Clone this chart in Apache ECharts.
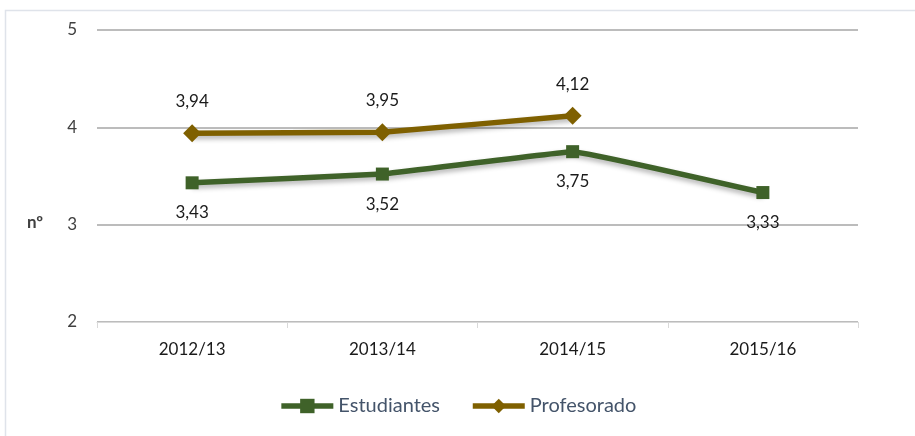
<!DOCTYPE html>
<html>
<head>
<meta charset="utf-8">
<script src="https://cdn.jsdelivr.net/npm/echarts@6/dist/echarts.min.js"></script>
<style>
html, body { margin: 0; padding: 0; background: #fff; }
#chart { width: 915px; height: 436px; }
</style>
</head>
<body>
<div id="chart"></div>
<script>
var categories = ["2012/13", "2013/14", "2014/15", "2015/16"];
var estudiantes = [3.43, 3.52, 3.75, 3.33];
var profesorado = [3.94, 3.95, 4.12, null];
var yTicks = { min: 2, max: 5, interval: 1 };

var fontFam = "Lato, 'Open Sans', sans-serif";

var fmt = function (p) {
    return String(p.value).replace(".", ",");
};

var chart = echarts.init(document.getElementById("chart"));
var option = {
    animation: false,
    backgroundColor: "#fff",
    color: ["#3f6229", "#7f6000"],
    grid: { left: 97, right: 57, top: 30, bottom: 114 },
    graphic: [
        {
            type: "rect",
            shape: { x: 5.5, y: 10.5, width: 915, height: 430 },
            style: { fill: "none", stroke: "#dfe3ea", lineWidth: 1.5 }
        },
        {
            type: "text",
            left: 27,
            top: 214,
            style: { text: "nº", font: "bold 17px " + fontFam, fill: "#404040" }
        }
    ],
    legend: {
        bottom: 15,
        left: "center",
        itemWidth: 52,
        itemHeight: 18,
        itemGap: 30,
        lineStyle: { width: 5.5 },
        textStyle: { color: "#44546a", fontSize: 20, fontFamily: fontFam },
        data: ["Estudiantes", "Profesorado"]
    },
    xAxis: {
        type: "category",
        data: categories,
        boundaryGap: true,
        axisLine: { lineStyle: { color: "#d9d9d9", width: 1 } },
        axisTick: { show: true, length: 6, lineStyle: { color: "#d9d9d9" } },
        axisLabel: { color: "#1a1a1a", fontSize: 17, fontFamily: fontFam, margin: 19 }
    },
    yAxis: {
        type: "value",
        min: yTicks.min,
        max: yTicks.max,
        interval: yTicks.interval,
        axisLine: { show: false },
        axisTick: { show: false },
        axisLabel: { color: "#404040", fontSize: 17, fontFamily: fontFam, margin: 20 },
        splitLine: { lineStyle: { color: "#a6a6a6", width: 1.5 } }
    },
    series: [
        {
            name: "Estudiantes",
            type: "line",
            data: estudiantes,
            smooth: 0.06,
            symbol: "rect",
            symbolSize: 13,
            lineStyle: { width: 5.5, shadowColor: "rgba(0,0,0,0.3)", shadowBlur: 5, shadowOffsetY: 3 },
            itemStyle: { color: "#3f6229" },
            label: {
                show: true,
                position: "bottom",
                distance: 15,
                formatter: fmt,
                color: "#1a1a1a",
                fontSize: 17,
                fontFamily: fontFam
            }
        },
        {
            name: "Profesorado",
            type: "line",
            data: profesorado,
            smooth: 0.06,
            symbol: "diamond",
            symbolSize: 18,
            lineStyle: { width: 5.5, shadowColor: "rgba(0,0,0,0.3)", shadowBlur: 5, shadowOffsetY: 3 },
            itemStyle: { color: "#7f6000" },
            label: {
                show: true,
                position: "top",
                distance: 14,
                formatter: fmt,
                color: "#1a1a1a",
                fontSize: 17,
                fontFamily: fontFam
            }
        }
    ]
};
chart.setOption(option);
</script>
</body>
</html>
